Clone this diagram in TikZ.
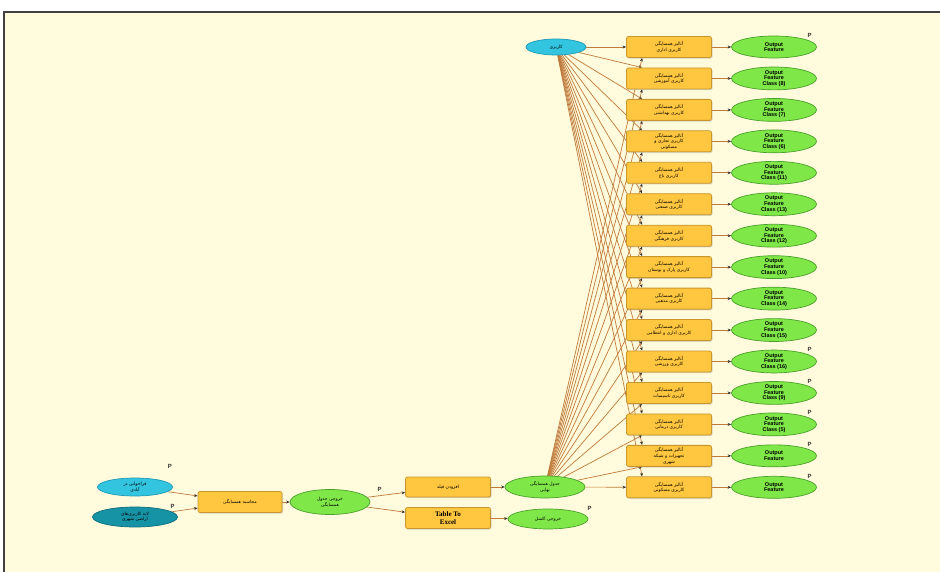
\documentclass[tikz,border=0pt]{standalone}
\usepackage{fontspec}
\usepackage{xcolor}
\usepackage{tikz}
\usetikzlibrary{shapes.geometric, arrows.meta, shadows, backgrounds}
\setmainfont{Liberation Serif}
\setsansfont{Liberation Sans}
\TeXXeTstate=1
\newfontfamily\fafont[Script=Arabic]{DejaVu Sans}
\newcommand{\fa}[1]{{\fafont\beginR #1\endR}}

\definecolor{paper}{HTML}{FFFBDC}
\definecolor{toolfill}{HTML}{FFC63F}
\definecolor{tooledge}{HTML}{C8962C}
\definecolor{outfill}{HTML}{7FE848}
\definecolor{outedge}{HTML}{4A9F2A}
\definecolor{infill}{HTML}{33C4E0}
\definecolor{inedge}{HTML}{1C9AB6}
\definecolor{basefill}{HTML}{1793A6}
\definecolor{baseedge}{HTML}{0E6C7C}
\definecolor{linkcol}{HTML}{C07A3C}

\tikzset{
  tool/.style={rectangle, rounded corners=2pt, draw=tooledge, fill=toolfill,
    line width=0.8pt, minimum width=85pt, minimum height=21pt, inner sep=1pt,
    align=center, font=\fontsize{4.5}{5.6}\selectfont,
    drop shadow={shadow xshift=1pt, shadow yshift=-1.2pt, opacity=0.3}},
  outdata/.style={ellipse, draw=outedge, fill=outfill, line width=0.7pt,
    minimum width=85pt, minimum height=22pt, inner sep=0pt, align=center,
    font=\sffamily\bfseries\fontsize{5.5}{5.6}\selectfont},
  indata/.style={ellipse, draw=inedge, fill=infill, line width=0.7pt,
    minimum width=60pt, minimum height=16pt, inner sep=0pt, align=center,
    font=\fontsize{4.5}{5.6}\selectfont},
  link/.style={draw=linkcol, line width=0.7pt, -{Stealth[length=3.5pt, width=3pt, black!80]}},
  pmark/.style={font=\sffamily\bfseries\fontsize{6}{6}\selectfont, text=black!80, inner sep=1pt}
}

\begin{document}
\begin{tikzpicture}[x=1pt, y=-1pt]
  \useasboundingbox (0,0) rectangle (940,572);

  % inputs on the left
  \node[indata, minimum width=75pt, minimum height=18pt] (zone) at (135,487)
    {\fa{فراخوانی در}\\\fa{آبادی}};
  \node[indata, fill=basefill, draw=baseedge, minimum width=85pt, minimum height=20pt] (landuse) at (135,517)
    {\fa{لایه کاربری‌های}\\\fa{اراضی شهری}};
  \node[tool, minimum width=84pt] (near) at (240,502) {\fa{محاسبه همسایگی}};
  \node[outdata, minimum width=80pt, minimum height=25pt, font=\fontsize{4.5}{5.6}\selectfont] (neartab) at (330,502)
    {\fa{خروجی جدول}\\\fa{همسایگی}};
  \node[tool, minimum height=20pt] (addfield) at (448,487) {\fa{افزودن فیلد}};
  \node[tool, font=\bfseries\fontsize{7}{7.5}\selectfont] (toexcel) at (448,518) {Table To\\Excel};
  \node[outdata, minimum width=80pt, font=\fontsize{4.5}{5.6}\selectfont] (table) at (545,487)
    {\fa{جدول همسایگی}\\\fa{نهایی}};
  \node[outdata, minimum width=80pt, minimum height=20pt, font=\fontsize{4.5}{5.6}\selectfont] (excel) at (548,519)
    {\fa{خروجی اکسل}};

  % feature layer at the top
  \node[indata] (feat) at (556,47) {\fa{کاربری}};

  % one tool and one output per land use
  \foreach \i/\txt/\res in {
      1/{\fa{کاربری اداری}}/{Output\\Feature},
      2/{\fa{کاربری آموزشی}}/{Output\\Feature\\Class (8)},
      3/{\fa{کاربری بهداشتی}}/{Output\\Feature\\Class (7)},
      4/{\fa{کاربری تجاری و}\\\fa{مسکونی}}/{Output\\Feature\\Class (6)},
      5/{\fa{کاربری باغ}}/{Output\\Feature\\Class (11)},
      6/{\fa{کاربری صنعتی}}/{Output\\Feature\\Class (13)},
      7/{\fa{کاربری فرهنگی}}/{Output\\Feature\\Class (12)},
      8/{\fa{کاربری پارک و بوستان}}/{Output\\Feature\\Class (10)},
      9/{\fa{کاربری مذهبی}}/{Output\\Feature\\Class (14)},
      10/{\fa{کاربری اداری و انتظامی}}/{Output\\Feature\\Class (15)},
      11/{\fa{کاربری ورزشی}}/{Output\\Feature\\Class (16)},
      12/{\fa{کاربری تاسیسات}}/{Output\\Feature\\Class (9)},
      13/{\fa{کاربری درمانی}}/{Output\\Feature\\Class (5)},
      14/{\fa{تجهیزات و شبکه}\\\fa{شهری}}/{Output\\Feature},
      15/{\fa{کاربری مسکونی}}/{Output\\Feature}} {
    \node[tool] (use\i) at (669,{47+(\i-1)*31.45}) {\fa{آنالیز همسایگی}\\\txt};
    \node[outdata] (out\i) at (774,{47+(\i-1)*31.45}) {\res};
  }

  % P marks
  \foreach \k in {1,11,12,13,14,15}
    \node[pmark, anchor=south west] (p\k) at ([xshift=2pt]out\k.north east) {P};
  \node[pmark, anchor=south west] (pzone) at ([xshift=5pt,yshift=11pt]zone.north east) {P};
  \node[pmark, anchor=south west] (pland) at ([xshift=4pt]landuse.north east) {P};
  \node[pmark, anchor=south west] (pnear) at ([xshift=18pt]neartab.north east) {P};
  \node[pmark, anchor=south west] (pexcel) at ([xshift=10pt]excel.north east) {P};

  \begin{pgfonlayer}{background}
    % sheet and frame
    \fill[white] (0,0) rectangle (940,572);
    \fill[paper] (4,12) rectangle (940,572);
    \draw[line width=1.3pt, black!75] (4,572) -- (4,12) -- (940,12);
    % connectors
    \draw[link] (zone) -- (near);
    \draw[link] (landuse) -- (near);
    \draw[link] (near) -- (neartab);
    \draw[link] (neartab) -- (addfield);
    \draw[link] (neartab) -- (toexcel);
    \draw[link] (addfield) -- (table);
    \draw[link] (toexcel) -- (excel);
    \draw[link] (feat) -- (use1);
    \draw[link] (table) -- (use15);
    \foreach \i in {2,...,15}
      \draw[link] (feat) -- ([xshift=16pt]use\i.north west);
    \foreach \i in {1,...,14}
      \draw[link] (table) -- ([xshift=16pt]use\i.south west);
    \foreach \i in {1,...,15}
      \draw[link] (use\i) -- (out\i);
  \end{pgfonlayer}
\end{tikzpicture}
\end{document}
